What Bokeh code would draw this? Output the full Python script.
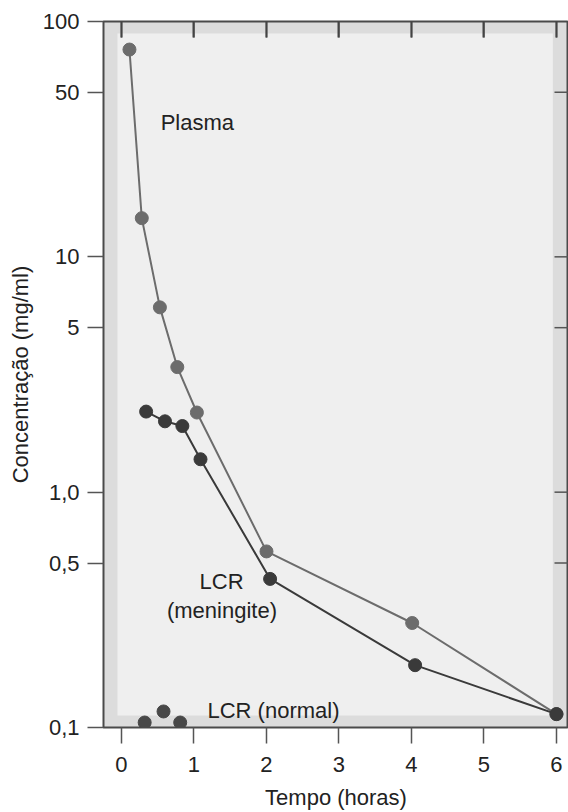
from bokeh.plotting import figure
from bokeh.models import (Range1d, FixedTicker, CustomJSTickFormatter, Label,
                          BoxAnnotation, LinearAxis)
from bokeh.embed import file_html
from bokeh.resources import INLINE

# ---- data ----
plasma_t = [0.11, 0.28, 0.53, 0.77, 1.04, 2.0, 4.01, 6.0]
plasma_c = [76.0, 14.6, 6.1, 3.4, 2.18, 0.56, 0.278, 0.114]

men_t = [0.34, 0.60, 0.84, 1.09, 2.05, 4.05, 6.0]
men_c = [2.20, 2.0, 1.91, 1.38, 0.428, 0.184, 0.114]

norm_t = [0.32, 0.58, 0.81]
norm_c = [0.105, 0.117, 0.105]

x_ticks = [0, 1, 2, 3, 4, 5, 6]
y_ticks = [0.1, 0.5, 1, 5, 10, 50, 100]
y_tick_labels = ["0,1", "0,5", "1,0", "5", "10", "50", "100"]

FONT = "Liberation Sans"
FS = "22px"
X0, X1 = -0.248, 6.166
Y0, Y1 = 0.1, 100
FRAME_W, FRAME_H = 465, 708
PX_PER_X = FRAME_W / (X1 - X0)
PX_PER_DEC = FRAME_H / 3.0

p = figure(width=568, height=812,
           x_range=Range1d(X0, X1), y_range=Range1d(Y0, Y1),
           y_axis_type="log", output_backend="svg", toolbar_location=None,
           min_border_left=103, min_border_top=21, min_border_bottom=83,
           min_border_right=0,
           background_fill_color="#dcdcdc", border_fill_color="white",
           outline_line_color="#4a4a4a", outline_line_width=2)
p.grid.visible = False

# inner lighter panel
p.add_layout(BoxAnnotation(left=-0.055, right=5.95, bottom=0.1125, top=89,
                           fill_color="#efefef", fill_alpha=1.0, line_color=None,
                           level="underlay"))

fmt = CustomJSTickFormatter(args=dict(tv=y_ticks, tl=y_tick_labels), code="""
    for (let i = 0; i < tv.length; i++) {
        if (Math.abs(tv[i] - tick) < 1e-6 * tv[i]) return tl[i];
    }
    return "";
""")

xa = p.xaxis[0]
xa.ticker = FixedTicker(ticks=x_ticks)
xa.major_tick_out = 16
xa.major_tick_in = 0
xa.minor_tick_line_color = None
xa.axis_line_color = None
xa.major_tick_line_color = "#555555"
xa.major_tick_line_width = 1.5
xa.major_label_standoff = 13
xa.major_label_text_font = FONT
xa.major_label_text_font_size = FS
xa.major_label_text_color = "#222222"
xa.axis_label = "Tempo (horas)"
xa.axis_label_standoff = 10
xa.axis_label_text_font = FONT
xa.axis_label_text_font_size = FS
xa.axis_label_text_font_style = "normal"
xa.axis_label_text_color = "#222222"

ya = p.yaxis[0]
ya.ticker = FixedTicker(ticks=y_ticks)
ya.formatter = fmt
ya.major_tick_out = 16
ya.major_tick_in = 0
ya.minor_tick_line_color = None
ya.axis_line_color = None
ya.major_tick_line_color = "#555555"
ya.major_tick_line_width = 1.5
ya.major_label_standoff = 8
ya.major_label_text_font = FONT
ya.major_label_text_font_size = FS
ya.major_label_text_color = "#222222"
ya.axis_label = "Concentração (mg/ml)"
ya.axis_label_standoff = 7
ya.axis_label_text_font = FONT
ya.axis_label_text_font_size = FS
ya.axis_label_text_font_style = "normal"
ya.axis_label_text_color = "#222222"

# inner tick marks along the top edge (labels not drawn)
top_axis = LinearAxis(ticker=FixedTicker(ticks=x_ticks), major_tick_in=16,
                      major_tick_out=0, minor_tick_line_color=None,
                      axis_line_color=None, major_tick_line_color="#444444",
                      major_tick_line_width=2, major_label_text_color=None,
                      major_label_text_font_size="1px", major_label_standoff=0)
p.add_layout(top_axis, "above")

# the same top ticks also as segments kept just inside the frame
top_len = 16 / PX_PER_DEC
p.segment(x0=x_ticks, y0=[Y1 * 0.995] * len(x_ticks), x1=x_ticks,
          y1=[Y1 / 10 ** top_len] * len(x_ticks),
          line_color="#555555", line_width=1.5)

# inner tick marks along the right edge
ry = y_ticks[1:-1]
p.segment(x0=[X1] * len(ry), y0=ry, x1=[X1 - 14 / PX_PER_X] * len(ry), y1=ry,
          line_color="#555555", line_width=1.5)

PL = "#6c6c6c"
MN = "#3a3a3a"

p.line(plasma_t, plasma_c, line_color=PL, line_width=2)
p.scatter(plasma_t, plasma_c, size=13, fill_color=PL, line_color=PL)

p.line(men_t, men_c, line_color=MN, line_width=2)
p.scatter(men_t, men_c, size=13, fill_color=MN, line_color=MN)

p.scatter(norm_t, norm_c, size=13, fill_color="#484848", line_color="#484848")

def lab(x, y, t, align):
    p.add_layout(Label(x=x, y=y, text=t, text_font=FONT, text_font_size=FS,
                       text_color="#222222", text_align=align, text_baseline="middle"))

lab(0.54, 37.3, "Plasma", "left")
lab(1.38, 0.416, "LCR", "center")
lab(1.386, 0.313, "(meningite)", "center")
lab(1.186, 0.118, "LCR (normal)", "left")

open("out.html", "w").write(file_html(p, INLINE))
